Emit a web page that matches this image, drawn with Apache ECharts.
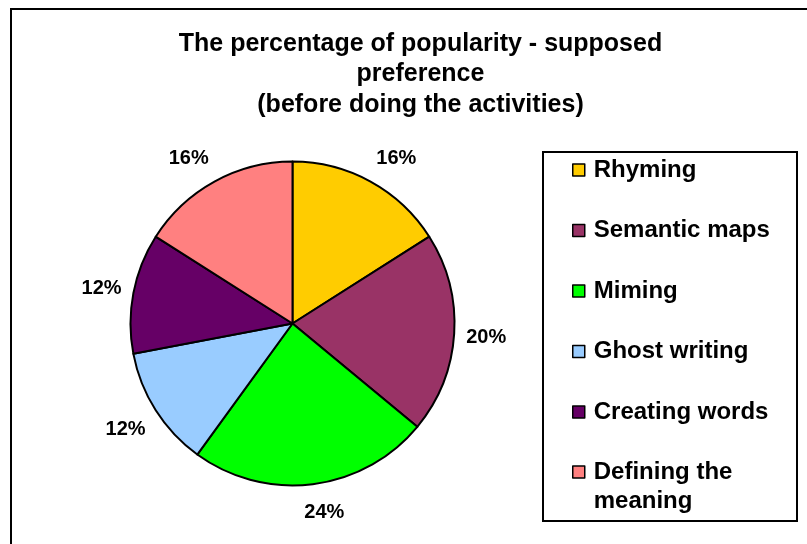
<!DOCTYPE html>
<html>
<head>
<meta charset="utf-8">
<script src="https://cdn.jsdelivr.net/npm/echarts@6/dist/echarts.min.js"></script>
<style>
  html, body { margin: 0; padding: 0; background: #fff; }
  #chart { width: 807px; height: 544px; }
</style>
</head>
<body>
<div id="chart"></div>
<script>
// Activities, clockwise from 12 o'clock
const activities = ['Rhyming', 'Semantic maps', 'Miming', 'Ghost writing', 'Creating words', 'Defining the meaning'];
const percentages = [16, 20, 24, 12, 12, 16];
const sliceColors = ['#FFCC00', '#993366', '#00FF00', '#99CCFF', '#660066', '#FF8080'];
const titleLines = ['The percentage of popularity - supposed', 'preference', '(before doing the activities)'];

const FONT = '"Liberation Sans", Arial, Helvetica, sans-serif';
const PIE_CX = 292.5, PIE_CY = 323.5, PIE_R = 162;
const LABEL_DIST = 174;

// mid-angle of every slice (radians, clockwise from top)
const total = percentages.reduce((a, b) => a + b, 0);
const midAngles = [];
let acc = 0;
percentages.forEach(v => { midAngles.push((acc + v / 2) / total * 2 * Math.PI); acc += v; });

const clamp01 = v => Math.max(0, Math.min(1, v));

// names that wrap onto two lines in the legend box
const isLong = name => name.length > 16;

const legendBase = {
  orient: 'vertical',
  left: 572,
  padding: 0,
  itemWidth: 12,
  itemHeight: 12,
  itemGap: 31.5,
  icon: 'rect',
  selectedMode: false,
  itemStyle: { borderColor: '#000', borderWidth: 1.5 },
  textStyle: {
    fontFamily: FONT, fontSize: 24, fontWeight: 'bold', color: '#000',
    lineHeight: 29, width: 185, overflow: 'break', padding: [0, 0, 0, 4]
  }
};

const chart = echarts.init(document.getElementById('chart'), null, { renderer: 'canvas' });
chart.setOption({
  animation: false,
  backgroundColor: '#fff',
  title: {
    text: titleLines.join('\n'),
    left: 420.5,
    top: 28.75,
    textAlign: 'center',
    padding: 0,
    textStyle: { fontFamily: FONT, fontSize: 25, fontWeight: 'bold', color: '#000', lineHeight: 30.5 }
  },
  legend: [
    Object.assign({}, legendBase, { top: 155.5, data: activities.filter(n => !isLong(n)) }),
    // wrapped entry: a leading blank line keeps its first line level with the swatch
    Object.assign({}, legendBase, {
      bottom: 28.5,
      data: activities.filter(isLong),
      formatter: name => '\n' + name
    })
  ],
  graphic: [
    { type: 'rect', silent: true, shape: { x: 11, y: 9, width: 1000, height: 1000 },
      style: { fill: 'none', stroke: '#000', lineWidth: 2 } },
    { type: 'rect', silent: true, shape: { x: 543, y: 152, width: 254, height: 369 },
      style: { fill: 'none', stroke: '#000', lineWidth: 2 } }
  ],
  series: [{
    type: 'pie',
    center: [PIE_CX, PIE_CY],
    radius: PIE_R,
    startAngle: 90,
    clockwise: true,
    avoidLabelOverlap: false,
    emphasis: { disabled: true },
    itemStyle: { borderColor: '#000', borderWidth: 2 },
    label: {
      show: true,
      position: 'outside',
      formatter: '{c}%',
      fontFamily: FONT, fontSize: 20, fontWeight: 'bold', color: '#000'
    },
    labelLine: { show: false },
    // place each percentage just outside its slice, pushed off the rim by its own size
    labelLayout: function (p) {
      const a = midAngles[p.dataIndex];
      const dx = Math.sin(a), dy = -Math.cos(a);
      const hw = p.labelRect.width / 2, hh = 14.5;
      return {
        x: PIE_CX + LABEL_DIST * dx + hw * clamp01(Math.abs(dx) * 4) * Math.sign(dx),
        y: PIE_CY + LABEL_DIST * dy + hh * clamp01(Math.abs(dy) * 1.5) * Math.sign(dy) + 1.5,
        align: 'center',
        verticalAlign: 'middle'
      };
    },
    data: activities.map((name, i) => ({ name, value: percentages[i], itemStyle: { color: sliceColors[i] } }))
  }]
});
</script>
</body>
</html>
